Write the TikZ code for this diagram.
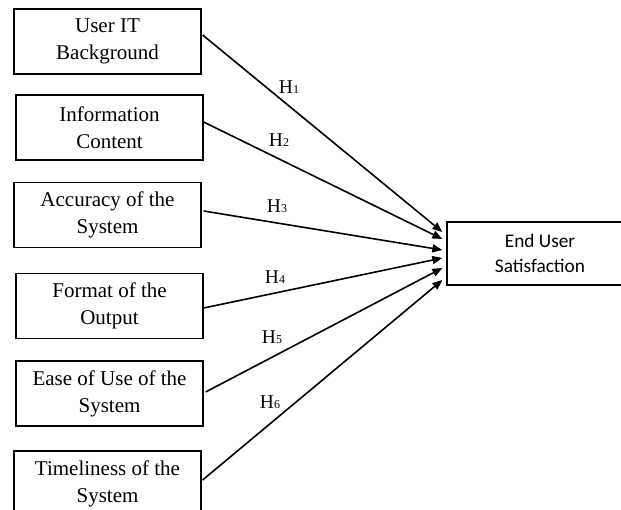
\documentclass[tikz,border=0pt]{standalone}
\usepackage{fontspec}
\setmainfont{Liberation Serif}
\newfontfamily\carlitofont{Carlito}
\usetikzlibrary{arrows.meta,calc}
\tikzset{
  factor/.style={draw=black, line width=1.3pt, minimum width=187pt, minimum height=65pt,
    align=center, inner sep=0pt, font=\fontsize{21}{27}\selectfont},
  outcome/.style={draw=black, line width=1.3pt, minimum width=186pt, minimum height=63pt,
    align=center, inner sep=0pt, font=\carlitofont\fontsize{19.3}{25}\selectfont},
  link/.style={line width=1.6pt, -{Triangle[length=10pt,width=8pt]}},
  hyp/.style={inner sep=0pt, font=\fontsize{19.5}{20}\selectfont}
}
\newcommand{\hlab}[1]{H{\fontsize{12}{12}\selectfont\raisebox{-0.5pt}{#1}}}
\begin{document}
\begin{tikzpicture}[x=1pt,y=-1pt]
\useasboundingbox (0,0) rectangle (621,510);
\clip (0,0) rectangle (621,510);
\node[factor] (b1) at (107.5,41.5) {User IT\\Background};
\node[factor] (b2) at (109.5,127.5) {Information\\Content};
\node[factor] (b3) at (107.5,215) {Accuracy of the\\System};
\node[factor] (b4) at (109.5,306) {Format of the\\Output};
\node[factor] (b5) at (109.5,393.5) {Ease of Use of the\\System};
\node[factor] (b6) at (107.5,483.5) {Timeliness of the\\System};
\node[outcome] (es) at (540,253.5) {End User\\Satisfaction};
\coordinate (e1) at ($(es.west)+(-4,-21.5)$);
\coordinate (e2) at ($(es.west)+(-4,-14.5)$);
\coordinate (e3) at ($(es.west)+(-4,-3.5)$);
\coordinate (e4) at ($(es.west)+(-4,4.5)$);
\coordinate (e5) at ($(es.west)+(-4,14.5)$);
\coordinate (e6) at ($(es.west)+(-4,26.5)$);
\draw[link] ($(b1.east)+(1,-6.5)$) -- (e1);
\draw[link] ($(b2.east)+(0,-5.5)$) -- (e2);
\draw[link] ($(b3.east)+(2,-4)$) -- (e3);
\draw[link] ($(b4.east)+(0,2)$) -- (e4);
\draw[link] ($(b5.east)+(2,-1.5)$) -- (e5);
\draw[link] ($(b6.east)+(1,-3.5)$) -- (e6);
\node[hyp] (h1) at (289,87) {\hlab{1}};
\node[hyp] (h2) at (279,140) {\hlab{2}};
\node[hyp] (h3) at (277,206) {\hlab{3}};
\node[hyp] (h4) at (275,277) {\hlab{4}};
\node[hyp] (h5) at (272,337) {\hlab{5}};
\node[hyp] (h6) at (270,402) {\hlab{6}};
\end{tikzpicture}
\end{document}
